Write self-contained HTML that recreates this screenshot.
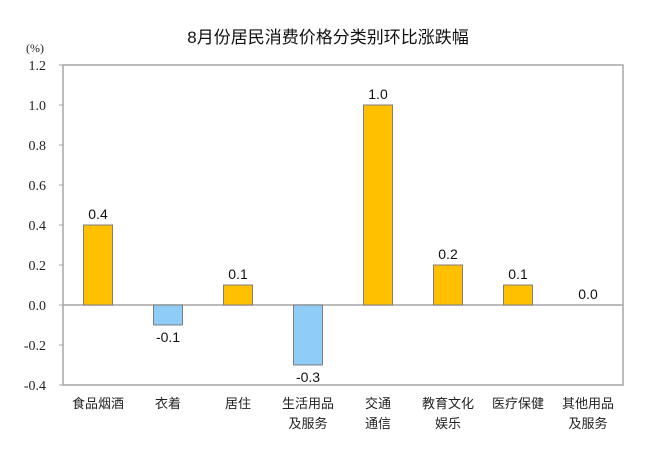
<!DOCTYPE html>
<html><head><meta charset="utf-8"><style>
html,body{margin:0;padding:0;background:#fff;}
svg{display:block;}
</style></head><body>
<svg id="chart" width="656" height="469" xmlns="http://www.w3.org/2000/svg">
<text x="328" y="43" text-anchor="middle" font-family="'Liberation Sans','Noto Sans CJK SC',sans-serif" font-size="17" fill="#111">8月份居民消费价格分类别环比涨跌幅</text>
<text x="35" y="52" text-anchor="middle" font-family="'Liberation Serif',serif" font-size="12" fill="#222">(%)</text>
<rect x="63" y="65" width="560" height="320" fill="none" stroke="#a6a6a6" stroke-width="1.5"/>
<g id="ticks"></g><g id="bars"></g><g id="cats"></g>
</svg>
<script>
const categories = [["食品烟酒"],["衣着"],["居住"],["生活用品","及服务"],["交通","通信"],["教育文化","娱乐"],["医疗保健"],["其他用品","及服务"]];
const values = [0.4,-0.1,0.1,-0.3,1.0,0.2,0.1,0.0];
const tickLabels = ["1.2","1.0","0.8","0.6","0.4","0.2","0.0","-0.2","-0.4"];
const NS="http://www.w3.org/2000/svg";
const x0=63,x1=623,yTop=65,yBot=385,vMax=1.2,vMin=-0.4;
const y=v=>yTop+(vMax-v)/(vMax-vMin)*(yBot-yTop);
const band=(x1-x0)/categories.length;
const xc=i=>x0+band*(i+0.5);
function mk(tag,attrs,parent){const e=document.createElementNS(NS,tag);for(const k in attrs)e.setAttribute(k,attrs[k]);parent.appendChild(e);return e;}
const ticks=document.getElementById('ticks'),bars=document.getElementById('bars'),cats=document.getElementById('cats');
tickLabels.forEach(t=>{const v=parseFloat(t);
 const tl=mk('text',{x:46,y:y(v)+5,'text-anchor':'end','font-family':"'Liberation Serif',serif",'font-size':14,fill:'#222'},ticks);
 
 
 tl.textContent=t;
 const tk=mk('line',{x1:x0-4,x2:x0,y1:y(v),y2:y(v),stroke:'#a6a6a6'},ticks);
 
 
});
const zl=mk('line',{x1:x0,x2:x1,y1:y(0),y2:y(0),stroke:'#a6a6a6','stroke-width':1.5},ticks);


const bw=29;
values.forEach((v,i)=>{
 const top=Math.min(y(v),y(0)),h=Math.abs(y(v)-y(0));
 if(h>0){const r=mk('rect',{x:xc(i)-bw/2,y:top,width:bw,height:h,fill:v>=0?'#ffc000':'#8fcdf7',stroke:'#7f7f7f','stroke-width':1},bars);
 
 }
 const lbl=mk('text',{x:xc(i),y:v>=0?y(v)-6:y(v)+17,'text-anchor':'middle','font-family':"'Liberation Sans',sans-serif",'font-size':14,fill:'#111'},bars);
 
 
 lbl.textContent=v.toFixed(1);
 categories[i].forEach((line,j)=>{
  const c=mk('text',{x:xc(i),y:408+j*20,'text-anchor':'middle','font-family':"'Liberation Sans','Noto Sans CJK SC',sans-serif",'font-size':13,fill:'#222'},cats);
  
  
  c.textContent=line;
 });
});
</script>
</body></html>
